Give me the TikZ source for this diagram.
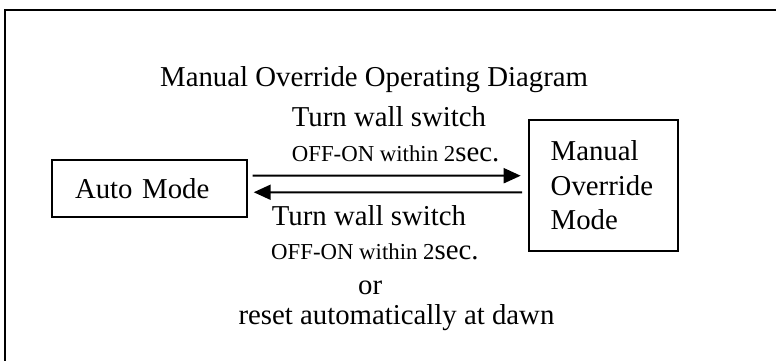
\documentclass[tikz,border=0pt]{standalone}
\usepackage{fontspec}
\setmainfont{Liberation Serif}
\usetikzlibrary{arrows.meta,calc}
\newcommand{\bigf}{\fontsize{28.8}{34.5}\selectfont}
\newcommand{\smallf}{\fontsize{22.8}{27}\selectfont}
\tikzset{
  lbl/.style={anchor=base west,inner sep=0pt,font=\bigf},
  boxnode/.style={draw,line width=2pt,align=left,font=\bigf,inner ysep=0pt},
  arr/.style={line width=2pt,-{Triangle[length=17pt,width=15pt]}},
  frame/.style={line width=2pt}
}
\begin{document}
\begin{tikzpicture}[x=1pt,y=-1pt]
\useasboundingbox (0,0) rectangle (776,360);
\clip (0,0) rectangle (776,360);
\fill[white] (0,0) rectangle (776,360);
\draw[frame] (5,10) rectangle (800,400);
% title
\node[lbl] (title) at (160,86.7) {Manual Override Operating Diagram};
% boxes
\node[boxnode,minimum width=195.3pt,minimum height=56.7pt,text width=148.7pt,inner xsep=23.3pt]
  (auto) at (149.35,188.35) {Auto Mode};
\node[boxnode,minimum width=148.4pt,minimum height=131pt,text width=105.6pt,inner xsep=21.4pt]
  (manual) at (603.5,185.5) {Manual\\Override\\Mode};
% arrows
\draw[arr] ($(auto.east)+(4.7,-12.7)$) -- ($(manual.west)+(-7.6,-9.8)$);
\draw[arr] ($(manual.west)+(-6.3,6.8)$) -- ($(auto.east)+(5.7,3.9)$);
% upper labels
\node[lbl] (up1) at (291.7,126.7) {Turn wall switch};
\node[lbl] (up2) at (291.7,161.7) {{\smallf OFF-ON within 2}sec.};
% lower labels
\node[lbl] (lo1) at (271.7,225) {Turn wall switch};
\node[lbl] (lo2) at (271,259.3) {{\smallf OFF-ON within 2}sec.};
\node[lbl] (lo3) at (358,294) {or};
\node[lbl] (lo4) at (238.3,324) {reset automatically at dawn};
\end{tikzpicture}
\end{document}
